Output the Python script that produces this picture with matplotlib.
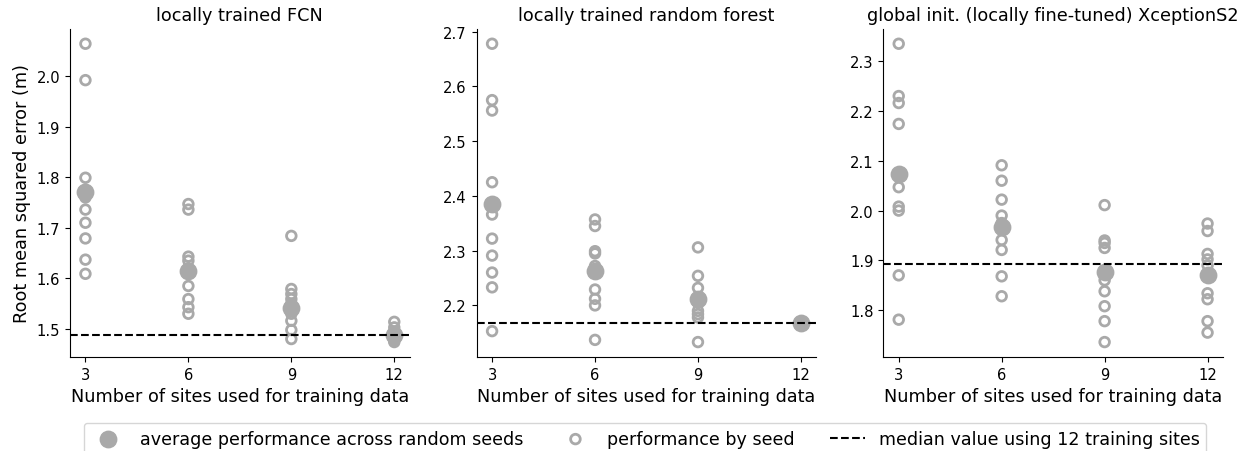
import numpy as np
import matplotlib
matplotlib.use("Agg")
import matplotlib.pyplot as plt

# number of training sites on the x axis
n_sites = [3, 6, 9, 12]

titles = ["locally trained FCN",
          "locally trained random forest",
          "global init. (locally fine-tuned) XceptionS2"]

# RMSE per random seed, one list per site count
fcn_seeds = [
    [2.064, 1.992, 1.799, 1.775, 1.736, 1.710, 1.679, 1.637, 1.609, 1.760],
    [1.747, 1.736, 1.643, 1.635, 1.620, 1.585, 1.559, 1.543, 1.530, 1.610],
    [1.684, 1.579, 1.569, 1.559, 1.550, 1.530, 1.516, 1.498, 1.480, 1.540],
    [1.514, 1.503, 1.495, 1.487, 1.487, 1.484, 1.480, 1.477, 1.474, 1.490],
]
rf_seeds = [
    [2.678, 2.575, 2.556, 2.425, 2.366, 2.322, 2.291, 2.260, 2.233, 2.153],
    [2.357, 2.345, 2.299, 2.295, 2.272, 2.229, 2.212, 2.200, 2.137, 2.262],
    [2.306, 2.254, 2.232, 2.211, 2.205, 2.184, 2.178, 2.133, 2.212, 2.190],
    [2.167] * 10,
]
xcp_seeds = [
    [2.335, 2.230, 2.216, 2.174, 2.074, 2.047, 2.008, 2.000, 1.870, 1.781],
    [2.091, 2.060, 2.022, 1.990, 1.970, 1.941, 1.921, 1.868, 1.828, 1.975],
    [2.011, 1.940, 1.935, 1.925, 1.860, 1.838, 1.808, 1.778, 1.736, 1.880],
    [1.974, 1.959, 1.913, 1.902, 1.890, 1.834, 1.822, 1.778, 1.755, 1.870],
]

# average across seeds
fcn_mean = [1.771, 1.614, 1.542, 1.487]
rf_mean = [2.386, 2.263, 2.211, 2.167]
xcp_mean = [2.074, 1.968, 1.877, 1.870]

# median using all 12 training sites
fcn_median12 = 1.487
rf_median12 = 2.167
xcp_median12 = 1.893

seeds_all = [fcn_seeds, rf_seeds, xcp_seeds]
means_all = [fcn_mean, rf_mean, xcp_mean]
medians_all = [fcn_median12, rf_median12, xcp_median12]

gray = "darkgray"
fs = 12.7

fig, axs = plt.subplots(1, 3, figsize=(12.5, 4.52), dpi=100)
fig.subplots_adjust(left=0.056, right=0.9784, bottom=0.208, top=0.934, wspace=0.197)

for ax, title, seeds, means, med in zip(axs, titles, seeds_all, means_all, medians_all):
    for n, vals in zip(n_sites, seeds):
        h_seed = ax.scatter([n] * len(vals), vals, s=48, facecolors="none",
                            edgecolors=gray, linewidths=2, zorder=2)
    h_mean = ax.scatter(n_sites, means, s=140, color=gray, zorder=3)
    h_med = ax.axhline(med, color="black", linestyle="--", linewidth=1.5, zorder=4)
    ax.set_xticks(n_sites)
    ax.set_title(title, fontsize=fs)
    ax.set_xlabel("Number of sites used for training data", fontsize=fs)
    ax.tick_params(labelsize=10.6)
    ax.spines["top"].set_visible(False)
    ax.spines["right"].set_visible(False)

axs[0].set_ylabel("Root mean squared error (m)", fontsize=fs)

fig.legend([h_mean, h_seed, h_med],
           ["average performance across random seeds",
            "performance by seed",
            "median value using 12 training sites"],
           loc="upper center", bbox_to_anchor=(0.516, 0.082), ncol=3, fontsize=12.6)

fig.savefig("out.png", dpi=100)
